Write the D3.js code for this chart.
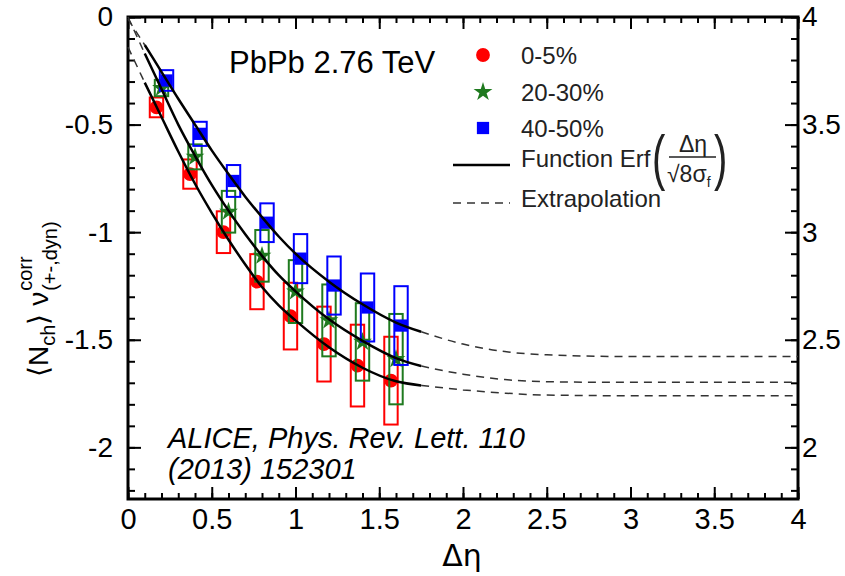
<!DOCTYPE html>
<html>
<head>
<meta charset="utf-8">
<script src="https://cdn.jsdelivr.net/npm/d3@7"></script>
<style>
  body { margin: 0; background: #fff; }
  svg { display: block; }
  text { font-family: "Liberation Sans", Arial, sans-serif; fill: #000; }
</style>
</head>
<body>
<div id="chart"></div>
<script>
// centrality classes
const centralities = ["0-5%", "20-30%", "40-50%"];
const seriesColors = ["#ff0000", "#1f7a1f", "#0000ff"];

// measured points (delta eta, value, systematic half-height)
const etaRed   = [0.17, 0.37, 0.57, 0.77, 0.97, 1.17, 1.37, 1.57];
const valRed   = [-0.42, -0.73, -1.00, -1.23, -1.39, -1.52, -1.62, -1.69];
const sysRed   = [0.046, 0.068, 0.097, 0.128, 0.155, 0.174, 0.19, 0.204];

const etaGreen = [0.20, 0.40, 0.60, 0.80, 1.00, 1.20, 1.40, 1.60];
const valGreen = [-0.33, -0.65, -0.905, -1.11, -1.276, -1.41, -1.51, -1.59];
const sysGreen = [0.038, 0.058, 0.097, 0.12, 0.146, 0.167, 0.18, 0.21];

const etaBlue  = [0.23, 0.43, 0.63, 0.83, 1.03, 1.23, 1.43, 1.63];
const valBlue  = [-0.295, -0.543, -0.762, -0.956, -1.123, -1.248, -1.35, -1.434];
const sysBlue  = [0.048, 0.056, 0.074, 0.09, 0.114, 0.135, 0.158, 0.183];

// fit curves
const curveEta   = [0, 0.1, 0.2, 0.3, 0.4, 0.5, 0.6, 0.7, 0.8, 0.9, 1.0, 1.2, 1.4, 1.6, 1.75, 2.0, 2.25, 2.5, 3.0, 3.5, 4.0];
const curveRed   = [-0.14, -0.305, -0.465, -0.625, -0.775, -0.91, -1.035, -1.15, -1.255, -1.34, -1.41, -1.535, -1.63, -1.693, -1.712, -1.733, -1.748, -1.757, -1.76, -1.76, -1.76];
const curveGreen = [-0.0, -0.17, -0.335, -0.50, -0.645, -0.78, -0.90, -1.01, -1.11, -1.20, -1.275, -1.405, -1.505, -1.585, -1.622, -1.66, -1.685, -1.695, -1.698, -1.698, -1.698];
const curveBlue  = [-0.01, -0.13, -0.255, -0.38, -0.50, -0.62, -0.73, -0.835, -0.93, -1.02, -1.10, -1.23, -1.335, -1.42, -1.463, -1.52, -1.555, -1.57, -1.578, -1.578, -1.578];
const fitStart = 0.1, fitEnd = 1.75;

// axis ticks
const xTicks = [0, 0.5, 1, 1.5, 2, 2.5, 3, 3.5, 4];
const xTickLabels = ["0", "0.5", "1", "1.5", "2", "2.5", "3", "3.5", "4"];
const yTicks = [-2, -1.5, -1, -0.5, 0];
const yTickLabels = ["-2", "-1.5", "-1", "-0.5", "0"];
const rTicks = [2, 2.5, 3, 3.5, 4];
const rTickLabels = ["2", "2.5", "3", "3.5", "4"];

const width = 845, height = 576;
const margins = {top: 17, right: 47, bottom: 77, left: 128};

const svg = d3.select("#chart")
  .append("svg")
  .attr("width", width)
  .attr("height", height)
  .attr("viewBox", [0, 0, width, height]);

const xScale = d3.scaleLinear()
  .domain([0, 4])
  .range([margins.left, width - margins.right]);

const yScale = d3.scaleLinear()
  .domain([-2.24, 0])
  .range([height - margins.bottom, margins.top]);

const yRight = d3.scaleLinear()
  .domain([1.76, 4])
  .range([height - margins.bottom, margins.top]);

const xMinor = d3.range(0, 41).map(i => i / 10);
const yMinor = d3.range(-22, 1).map(i => i / 10);
const rMinor = d3.range(18, 41).map(i => i / 10);

const bottomY = height - margins.bottom;
const rightX = width - margins.right;

function styleAxis(g) {
  g.select(".domain").remove();
  g.selectAll(".tick line").attr("stroke", "#000").attr("stroke-width", 2);
}

// minor ticks
svg.append("g").attr("transform", `translate(0,${bottomY})`)
  .call(d3.axisBottom(xScale).tickValues(xMinor).tickSize(-6).tickFormat(""))
  .call(styleAxis);
svg.append("g").attr("transform", `translate(0,${margins.top})`)
  .call(d3.axisTop(xScale).tickValues(xMinor).tickSize(-6).tickFormat(""))
  .call(styleAxis);
svg.append("g").attr("transform", `translate(${margins.left},0)`)
  .call(d3.axisLeft(yScale).tickValues(yMinor).tickSize(-7).tickFormat(""))
  .call(styleAxis);
svg.append("g").attr("transform", `translate(${rightX},0)`)
  .call(d3.axisRight(yRight).tickValues(rMinor).tickSize(-7).tickFormat(""))
  .call(styleAxis);

// major ticks with labels
const xAxis = svg.append("g").attr("transform", `translate(0,${bottomY})`)
  .call(d3.axisBottom(xScale).tickValues(xTicks).tickSize(-12).tickPadding(9)
    .tickFormat((d, i) => xTickLabels[i]))
  .call(styleAxis);
xAxis.selectAll("text")
  .style("font-family", "'Liberation Sans Narrow', 'Liberation Sans', sans-serif")
  .style("font-size", "29px");

svg.append("g").attr("transform", `translate(0,${margins.top})`)
  .call(d3.axisTop(xScale).tickValues(xTicks).tickSize(-12).tickFormat(""))
  .call(styleAxis);

const yAxis = svg.append("g").attr("transform", `translate(${margins.left},0)`)
  .call(d3.axisLeft(yScale).tickValues(yTicks).tickSize(-13).tickPadding(15)
    .tickFormat((d, i) => yTickLabels[i]))
  .call(styleAxis);
yAxis.selectAll("text").style("font-size", "28px");

const rAxis = svg.append("g").attr("transform", `translate(${rightX},0)`)
  .call(d3.axisRight(yRight).tickValues(rTicks).tickSize(-13).tickPadding(4)
    .tickFormat((d, i) => rTickLabels[i]))
  .call(styleAxis);
rAxis.selectAll("text").style("font-size", "28px");

// frame
svg.append("rect")
  .attr("x", margins.left)
  .attr("y", margins.top)
  .attr("width", rightX - margins.left)
  .attr("height", bottomY - margins.top)
  .attr("fill", "none")
  .attr("stroke", "#000")
  .attr("stroke-width", 3);

// data
const series = [
  {eta: etaRed, val: valRed, sys: sysRed, color: seriesColors[0], shape: d3.symbolCircle, size: 150},
  {eta: etaGreen, val: valGreen, sys: sysGreen, color: seriesColors[1], shape: d3.symbolStar, size: 110},
  {eta: etaBlue, val: valBlue, sys: sysBlue, color: seriesColors[2], shape: d3.symbolSquare, size: 150}
];
const boxHalf = 0.04;

series.forEach(s => {
  const pts = s.eta.map((e, i) => ({eta: e, val: s.val[i], sys: s.sys[i]}));
  const g = svg.append("g");
  g.selectAll("path.marker")
    .data(pts)
    .join("path")
      .attr("class", "marker")
      .attr("transform", d => `translate(${xScale(d.eta)},${yScale(d.val)})`)
      .attr("d", d3.symbol(s.shape, s.size))
      .attr("fill", s.color);
  g.selectAll("rect")
    .data(pts)
    .join("rect")
      .attr("x", d => xScale(d.eta - boxHalf))
      .attr("y", d => yScale(d.val + d.sys))
      .attr("width", d => xScale(d.eta + boxHalf) - xScale(d.eta - boxHalf))
      .attr("height", d => yScale(d.val - d.sys) - yScale(d.val + d.sys))
      .attr("fill", "none")
      .attr("stroke", s.color)
      .attr("stroke-width", 2);
});

// fit curves
const line = d3.line()
  .curve(d3.curveMonotoneX)
  .x(d => xScale(d[0]))
  .y(d => yScale(d[1]));

[curveRed, curveGreen, curveBlue].forEach(c => {
  const pts = curveEta.map((e, i) => [e, c[i]]);
  const solid = pts.filter(d => d[0] >= fitStart && d[0] <= fitEnd);
  const left = pts.filter(d => d[0] <= fitStart);
  const right = pts.filter(d => d[0] >= fitEnd);
  svg.append("path")
    .attr("d", line(solid))
    .attr("fill", "none")
    .attr("stroke", "#000")
    .attr("stroke-width", 2.5);
  [left, right].forEach(p => {
    svg.append("path")
      .attr("d", line(p))
      .attr("fill", "none")
      .attr("stroke", "#333")
      .attr("stroke-width", 1.5)
      .attr("stroke-dasharray", "8,6");
  });
});

// texts
svg.append("text")
  .attr("x", 229)
  .attr("y", 73)
  .style("font-size", "31px")
  .text("PbPb 2.76 TeV");

const cite = svg.append("text")
  .attr("x", 168)
  .attr("y", 448)
  .style("font-size", "29px")
  .style("font-style", "italic");
cite.append("tspan").attr("x", 168).text("ALICE, Phys. Rev. Lett. 110");
cite.append("tspan").attr("x", 168).attr("dy", 31).text("(2013) 152301");

// legend
const legendX = 483, legendTextX = 521;
const legendRows = [55, 92, 128];
series.forEach((s, i) => {
  svg.append("path")
    .attr("transform", `translate(${legendX},${legendRows[i]})`)
    .attr("d", d3.symbol(s.shape, s.size))
    .attr("fill", s.color);
  svg.append("text")
    .attr("x", legendTextX)
    .attr("y", legendRows[i] + 9)
    .style("font-size", "24px")
    .style("fill", "#222")
    .text(centralities[i]);
});

svg.append("line")
  .attr("x1", 453).attr("x2", 510)
  .attr("y1", 165).attr("y2", 165)
  .attr("stroke", "#000").attr("stroke-width", 2.5);
svg.append("text")
  .attr("x", legendTextX).attr("y", 167)
  .style("font-size", "24px").style("fill", "#222")
  .text("Function Erf");

svg.append("text")
  .attr("transform", "translate(652,158) scale(1,1.55)")
  .attr("dy", "0.33em")
  .style("font-size", "40px")
  .style("font-weight", "300")
  .style("fill", "#222")
  .text("(");
svg.append("text")
  .attr("transform", "translate(714,158) scale(1,1.55)")
  .attr("dy", "0.33em")
  .style("font-size", "40px")
  .style("font-weight", "300")
  .style("fill", "#222")
  .text(")");
svg.append("text")
  .attr("x", 693).attr("y", 152)
  .attr("text-anchor", "middle")
  .style("font-size", "23px").style("fill", "#222")
  .text("Δη");
svg.append("line")
  .attr("x1", 669).attr("x2", 716)
  .attr("y1", 157).attr("y2", 157)
  .attr("stroke", "#222").attr("stroke-width", 1.5);
const den = svg.append("text")
  .attr("x", 667).attr("y", 182)
  .style("font-size", "23px").style("fill", "#222");
den.append("tspan").text("√8σ");
den.append("tspan").attr("dy", 5).style("font-size", "14px").text("f");

svg.append("line")
  .attr("x1", 453).attr("x2", 510)
  .attr("y1", 203).attr("y2", 203)
  .attr("stroke", "#333").attr("stroke-width", 1.5)
  .attr("stroke-dasharray", "8,6");
svg.append("text")
  .attr("x", legendTextX).attr("y", 207)
  .style("font-size", "24px").style("fill", "#222")
  .text("Extrapolation");

// x label
svg.append("text")
  .attr("x", 462)
  .attr("y", 566)
  .attr("text-anchor", "middle")
  .style("font-size", "30px")
  .style("font-family", "'DejaVu Sans', sans-serif")
  .text("Δη");

// y label
const yLab = svg.append("text")
  .attr("transform", "translate(48,377) rotate(-90)")
  .style("font-size", "28px");
yLab.append("tspan").text("⟨N");
yLab.append("tspan").attr("dy", 7).style("font-size", "20px").text("ch");
yLab.append("tspan").attr("dy", -7).text("⟩ ν");
const baseLen = yLab.node().getComputedTextLength();
yLab.append("tspan").attr("x", baseLen + 1).attr("y", -16).style("font-size", "20px").text("corr");
yLab.append("tspan").attr("x", baseLen + 1).attr("y", 9).style("font-size", "20px").text("(+-,dyn)");
</script>
</body>
</html>
